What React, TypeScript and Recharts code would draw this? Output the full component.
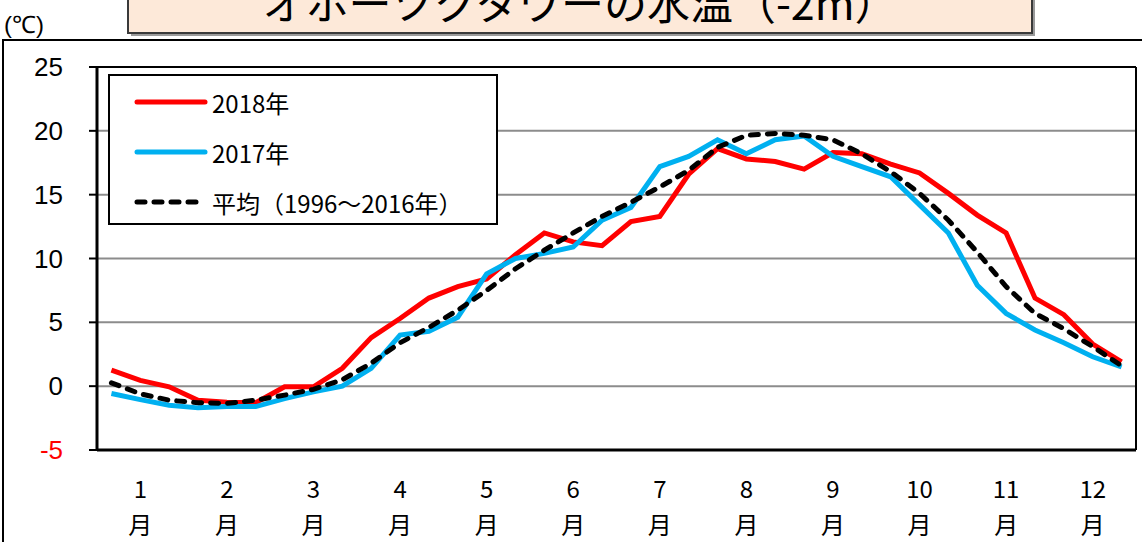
import React from "react";
import {
  LineChart,
  Line,
  XAxis,
  YAxis,
  CartesianGrid,
  ReferenceLine,
  Legend,
} from "recharts";

// 上旬・中旬・下旬 (3 slots per month)
const months = ["1", "2", "3", "4", "5", "6", "7", "8", "9", "10", "11", "12"];

const temp2018 = [
  1.25, 0.45, -0.05, -1.1, -1.25, -1.3, -0.05, -0.05, 1.4, 3.8, 5.3, 6.9,
  7.8, 8.4, 10.3, 12.0, 11.3, 11.0, 12.9, 13.3, 16.6, 18.6, 17.8, 17.6,
  17.0, 18.3, 18.2, 17.4, 16.7, 15.1, 13.4, 12.0, 6.9, 5.6, 3.3, 1.9,
];
const temp2017 = [
  -0.57, -1.05, -1.5, -1.7, -1.6, -1.6, -0.97, -0.45, 0.0, 1.4, 4.0, 4.3,
  5.4, 8.8, 10.0, 10.4, 10.9, 13.0, 14.0, 17.2, 18.0, 19.3, 18.2, 19.3,
  19.6, 18.0, 17.2, 16.4, 14.2, 12.0, 7.9, 5.7, 4.4, 3.4, 2.3, 1.5,
];
const tempAvg = [
  0.26, -0.6, -1.1, -1.3, -1.35, -1.1, -0.7, -0.25, 0.5, 1.8, 3.4, 4.6,
  5.95, 7.5, 9.2, 10.65, 12.0, 13.3, 14.4, 15.6, 16.9, 18.7, 19.65, 19.8,
  19.65, 19.3, 18.2, 16.8, 15.1, 13.0, 10.5, 7.8, 5.7, 4.5, 3.1, 1.6,
];
const yTicks = [-5, 0, 5, 10, 15, 20, 25];

const series = [
  { key: "y2018", name: "2018年", color: "#FF0000", dash: undefined },
  { key: "y2017", name: "2017年", color: "#00B0F0", dash: undefined },
  { key: "avg", name: "平均（1996～2016年）", color: "#000", dash: "8 9" },
];

const data = temp2018.map((v, i) => ({
  x: i + 0.5,
  y2018: v,
  y2017: temp2017[i],
  avg: tempAvg[i],
}));
const monthEdges = months.map((_, i) => i * 3).concat([36]);
const monthCenters = months.map((_, i) => i * 3 + 1.5);

const W = 1142;
const H = 542;
const JP = "'Noto Sans CJK JP', 'Noto Sans', sans-serif";

const YTick = (props: any) => {
  const { x, y, payload } = props;
  return (
    <text
      x={x}
      y={y}
      dy={9}
      textAnchor="end"
      fontSize={26}
      fontFamily="'Liberation Sans', Arial, sans-serif"
      fill={payload.value < 0 ? "#FF0000" : "#000"}
    >
      {payload.value}
    </text>
  );
};

const MonthTick = (props: any) => {
  const { x, y, payload } = props;
  const m = months[Math.round((payload.value - 1.5) / 3)];
  return (
    <g fontFamily={JP} fontSize={24} fill="#000">
      <text x={x} y={y} dy={40} textAnchor="middle">
        {m}
      </text>
      <text x={x} y={y} dy={76} textAnchor="middle">
        月
      </text>
    </g>
  );
};

const LegendBox = () => (
  <div
    style={{
      width: 390,
      height: 151,
      boxSizing: "border-box",
      border: "2px solid #000",
      background: "#fff",
      paddingTop: 1,
    }}
  >
    {series.map((s) => (
      <div
        key={s.key}
        style={{ display: "flex", alignItems: "center", height: 50 }}
      >
        <svg width={76} height={20} style={{ marginLeft: 22 }}>
          <line
            x1={5}
            y1={10}
            x2={73}
            y2={10}
            stroke={s.color}
            strokeWidth={5}
            strokeLinecap="round"
            strokeDasharray={s.dash}
          />
        </svg>
        <span
          style={{
            fontFamily: JP,
            fontSize: 24,
            color: "#000",
            marginLeft: 4,
            whiteSpace: "nowrap",
          }}
        >
          {s.name}
        </span>
      </div>
    ))}
  </div>
);

export default function App() {
  return (
    <div
      style={{
        position: "absolute",
        left: 0,
        top: 0,
        width: W,
        height: H,
        overflow: "hidden",
        background: "#fff",
      }}
    >
      <svg
        width={W}
        height={H}
        style={{ position: "absolute", left: 0, top: 0 }}
      >
        <rect x={3} y={40} width={1160} height={540} fill="#fff" stroke="#000" strokeWidth={2} />
        <rect x={131} y={-8} width={904} height={44} fill="#9a9a9a" />
        <rect x={128} y={-11} width={904} height={44} fill="#FDE9D9" stroke="#3a3a3a" strokeWidth={2} />
        <text x={580} y={20} textAnchor="middle" fontSize={43} fontFamily={JP} fill="#000">
          オホーツクタワーの水温（-2m）
        </text>
        <text
          x={4}
          y={33}
          fontSize={24}
          fontFamily="'Liberation Sans Narrow', 'Liberation Sans', sans-serif"
          fill="#000"
        >
          (℃)
        </text>
      </svg>
      <div style={{ position: "absolute", left: 0, top: 0 }}>
        <LineChart
          width={W}
          height={H}
          data={data}
          margin={{ top: 67, right: 6, left: 0, bottom: 0 }}
        >
          <CartesianGrid
            horizontal
            vertical={false}
            stroke="#8c8c8c"
            strokeWidth={2}
          />
          <XAxis
            type="number"
            dataKey="x"
            domain={[0, 36]}
            ticks={monthEdges}
            interval={0}
            tick={false}
            tickSize={8}
            height={8}
            axisLine={{ stroke: "#000", strokeWidth: 3 }}
            tickLine={{ stroke: "#000", strokeWidth: 2 }}
          />
          <XAxis
            xAxisId="lab"
            type="number"
            dataKey="x"
            domain={[0, 36]}
            ticks={monthCenters}
            interval={0}
            tick={<MonthTick />}
            tickSize={0}
            tickMargin={0}
            height={84}
            axisLine={false}
            tickLine={false}
          />
          <YAxis
            type="number"
            domain={[-5, 25]}
            ticks={yTicks}
            interval={0}
            width={97}
            tickSize={8}
            tickMargin={26}
            tick={<YTick />}
            axisLine={{ stroke: "#000", strokeWidth: 3 }}
            tickLine={{ stroke: "#000", strokeWidth: 2 }}
          />
          <ReferenceLine y={25} stroke="#000" strokeWidth={2} />
          <ReferenceLine x={36} stroke="#000" strokeWidth={2} />
          <Legend
            layout="vertical"
            align="center"
            verticalAlign="middle"
            content={<LegendBox />}
            wrapperStyle={{ left: 108, top: 74, width: 390, height: 151 }}
          />
          {series.map((s) => (
            <Line
              key={s.key}
              dataKey={s.key}
              name={s.name}
              stroke={s.color}
              strokeWidth={5}
              strokeDasharray={s.dash}
              strokeLinecap={s.dash ? "round" : "butt"}
              dot={false}
              activeDot={false}
              isAnimationActive={false}
            />
          ))}
        </LineChart>
      </div>
    </div>
  );
}
